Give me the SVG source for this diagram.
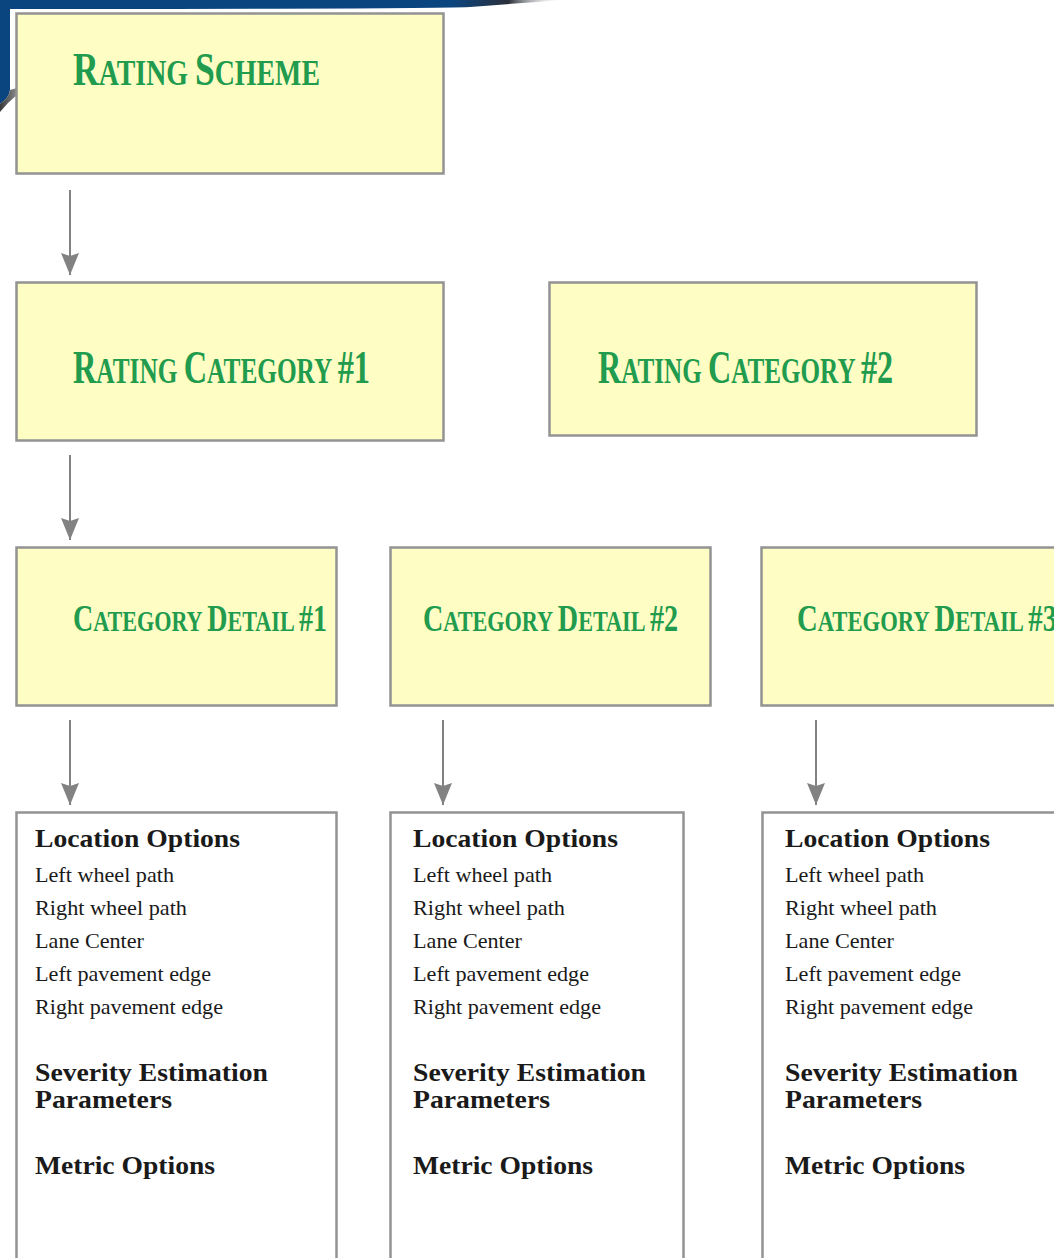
<svg xmlns="http://www.w3.org/2000/svg" width="1054" height="1258" viewBox="0 0 1054 1258" font-family="'Liberation Serif', 'DejaVu Serif', serif">
<defs>
<linearGradient id="band" x1="0" y1="0" x2="565" y2="0" gradientUnits="userSpaceOnUse">
<stop offset="0" stop-color="#0b4580"/>
<stop offset="0.8" stop-color="#0b4580"/>
<stop offset="0.9" stop-color="#2a2f3a"/>
<stop offset="1" stop-color="#ffffff" stop-opacity="0"/>
</linearGradient>
<linearGradient id="curl" x1="0" y1="0" x2="1" y2="0">
<stop offset="0" stop-color="#3a3a3a"/>
<stop offset="0.6" stop-color="#9a9a9a"/>
<stop offset="1" stop-color="#ffffff" stop-opacity="0"/>
</linearGradient>
<marker id="arr" viewBox="0 0 22 18" refX="22" refY="9" markerWidth="22" markerHeight="18" markerUnits="userSpaceOnUse" orient="auto">
<path d="M0,0 L22,9 L0,18 L3,9 Z" fill="#828282"/>
</marker>
<style>
.yb{fill:#fefdc4;stroke:#939393;stroke-width:2.5}
.wb{fill:#ffffff;stroke:#939393;stroke-width:2.5}
.ttl{font-weight:bold;fill:#219b4d}
.big{font-size:46px}
.sm{font-size:36px}
.dbig{font-size:38px}
.dsm{font-size:30px}
.hd{font-weight:bold;font-size:25px;fill:#1a1a1a}
.it{font-size:22px;fill:#1a1a1a}
.con{stroke:#828282;stroke-width:2;fill:none}
</style>
</defs>
<rect width="1054" height="1258" fill="#ffffff"/>
<g id="frame">
<path d="M0,0 H565 Q520,3 470,7 Q420,9 10,9 V90 Q9,98 0,104 Z" fill="url(#band)"/>
<path d="M0,104 Q9,98 10,90 Q22,86 34,86 Q16,92 0,112 Z" fill="url(#curl)"/>
</g>
<g id="connectors">
<line class="con" x1="70" y1="190" x2="70" y2="275" marker-end="url(#arr)"/>
<line class="con" x1="70" y1="455" x2="70" y2="540" marker-end="url(#arr)"/>
<line class="con" x1="70" y1="720" x2="70" y2="805" marker-end="url(#arr)"/>
<line class="con" x1="443" y1="720" x2="443" y2="805" marker-end="url(#arr)"/>
<line class="con" x1="816" y1="720" x2="816" y2="805" marker-end="url(#arr)"/>
</g>
<g id="rating-scheme">
<rect class="yb" x="16.5" y="13.5" width="427" height="160"/>
<text class="ttl" x="73" y="85" textLength="247" lengthAdjust="spacingAndGlyphs"><tspan class="big">R</tspan><tspan class="sm">ATING </tspan><tspan class="big">S</tspan><tspan class="sm">CHEME</tspan></text>
</g>
<g id="rating-category-1">
<rect class="yb" x="16.5" y="282.5" width="427" height="158"/>
<text class="ttl" x="73" y="383" textLength="297" lengthAdjust="spacingAndGlyphs"><tspan class="big">R</tspan><tspan class="sm">ATING </tspan><tspan class="big">C</tspan><tspan class="sm">ATEGORY </tspan><tspan class="big">#1</tspan></text>
</g>
<g id="rating-category-2">
<rect class="yb" x="549.5" y="282.5" width="427" height="153"/>
<text class="ttl" x="598" y="383" textLength="295" lengthAdjust="spacingAndGlyphs"><tspan class="big">R</tspan><tspan class="sm">ATING </tspan><tspan class="big">C</tspan><tspan class="sm">ATEGORY </tspan><tspan class="big">#2</tspan></text>
</g>
<g id="category-detail-1">
<rect class="yb" x="16.5" y="547.5" width="320" height="158"/>
<text class="ttl" x="73" y="631" textLength="254" lengthAdjust="spacingAndGlyphs"><tspan class="dbig">C</tspan><tspan class="dsm">ATEGORY </tspan><tspan class="dbig">D</tspan><tspan class="dsm">ETAIL </tspan><tspan class="dbig">#1</tspan></text>
</g>
<g id="category-detail-2">
<rect class="yb" x="390.5" y="547.5" width="320" height="158"/>
<text class="ttl" x="423" y="631" textLength="255" lengthAdjust="spacingAndGlyphs"><tspan class="dbig">C</tspan><tspan class="dsm">ATEGORY </tspan><tspan class="dbig">D</tspan><tspan class="dsm">ETAIL </tspan><tspan class="dbig">#2</tspan></text>
</g>
<g id="category-detail-3">
<rect class="yb" x="761.5" y="547.5" width="330" height="158"/>
<text class="ttl" x="797" y="631" textLength="260" lengthAdjust="spacingAndGlyphs"><tspan class="dbig">C</tspan><tspan class="dsm">ATEGORY </tspan><tspan class="dbig">D</tspan><tspan class="dsm">ETAIL </tspan><tspan class="dbig">#3</tspan></text>
</g>
<g id="options-1">
<rect class="wb" x="16.5" y="812.5" width="320" height="470"/>
<text class="hd" x="35" y="847" textLength="205" lengthAdjust="spacingAndGlyphs">Location Options</text>
<text class="it" x="35" y="882" textLength="139" lengthAdjust="spacingAndGlyphs">Left wheel path</text>
<text class="it" x="35" y="915" textLength="152" lengthAdjust="spacingAndGlyphs">Right wheel path</text>
<text class="it" x="35" y="948" textLength="109" lengthAdjust="spacingAndGlyphs">Lane Center</text>
<text class="it" x="35" y="981" textLength="176" lengthAdjust="spacingAndGlyphs">Left pavement edge</text>
<text class="it" x="35" y="1014" textLength="188" lengthAdjust="spacingAndGlyphs">Right pavement edge</text>
<text class="hd" x="35" y="1081" textLength="233" lengthAdjust="spacingAndGlyphs">Severity Estimation</text>
<text class="hd" x="35" y="1108" textLength="137" lengthAdjust="spacingAndGlyphs">Parameters</text>
<text class="hd" x="35" y="1174" textLength="180" lengthAdjust="spacingAndGlyphs">Metric Options</text>
</g>
<g id="options-2">
<rect class="wb" x="390.5" y="812.5" width="293" height="470"/>
<text class="hd" x="413" y="847" textLength="205" lengthAdjust="spacingAndGlyphs">Location Options</text>
<text class="it" x="413" y="882" textLength="139" lengthAdjust="spacingAndGlyphs">Left wheel path</text>
<text class="it" x="413" y="915" textLength="152" lengthAdjust="spacingAndGlyphs">Right wheel path</text>
<text class="it" x="413" y="948" textLength="109" lengthAdjust="spacingAndGlyphs">Lane Center</text>
<text class="it" x="413" y="981" textLength="176" lengthAdjust="spacingAndGlyphs">Left pavement edge</text>
<text class="it" x="413" y="1014" textLength="188" lengthAdjust="spacingAndGlyphs">Right pavement edge</text>
<text class="hd" x="413" y="1081" textLength="233" lengthAdjust="spacingAndGlyphs">Severity Estimation</text>
<text class="hd" x="413" y="1108" textLength="137" lengthAdjust="spacingAndGlyphs">Parameters</text>
<text class="hd" x="413" y="1174" textLength="180" lengthAdjust="spacingAndGlyphs">Metric Options</text>
</g>
<g id="options-3">
<rect class="wb" x="762.5" y="812.5" width="330" height="470"/>
<text class="hd" x="785" y="847" textLength="205" lengthAdjust="spacingAndGlyphs">Location Options</text>
<text class="it" x="785" y="882" textLength="139" lengthAdjust="spacingAndGlyphs">Left wheel path</text>
<text class="it" x="785" y="915" textLength="152" lengthAdjust="spacingAndGlyphs">Right wheel path</text>
<text class="it" x="785" y="948" textLength="109" lengthAdjust="spacingAndGlyphs">Lane Center</text>
<text class="it" x="785" y="981" textLength="176" lengthAdjust="spacingAndGlyphs">Left pavement edge</text>
<text class="it" x="785" y="1014" textLength="188" lengthAdjust="spacingAndGlyphs">Right pavement edge</text>
<text class="hd" x="785" y="1081" textLength="233" lengthAdjust="spacingAndGlyphs">Severity Estimation</text>
<text class="hd" x="785" y="1108" textLength="137" lengthAdjust="spacingAndGlyphs">Parameters</text>
<text class="hd" x="785" y="1174" textLength="180" lengthAdjust="spacingAndGlyphs">Metric Options</text>
</g>
</svg>
